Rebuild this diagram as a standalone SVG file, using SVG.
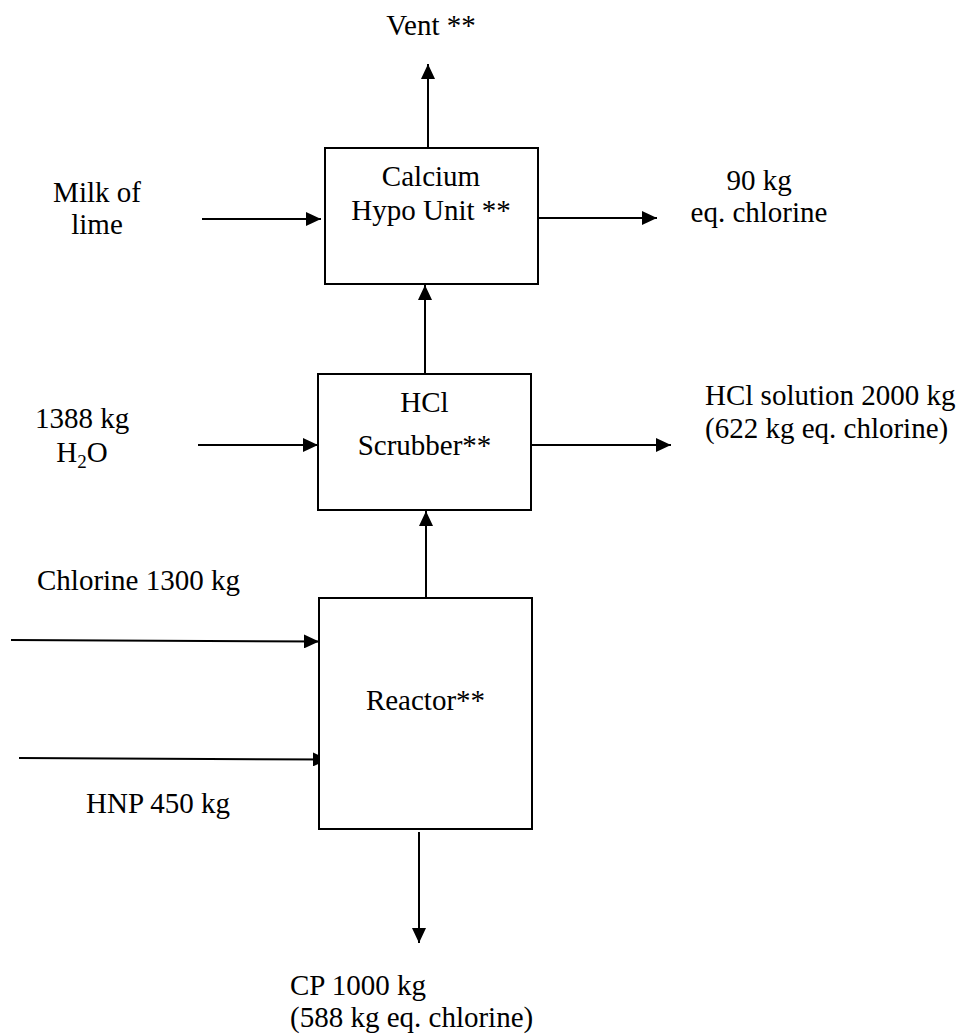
<svg xmlns="http://www.w3.org/2000/svg" width="962" height="1034" viewBox="0 0 962 1034">
<style>
  .box { fill: #ffffff; stroke: #000000; stroke-width: 2; }
  .line { fill: none; stroke: #000000; stroke-width: 2; marker-end: url(#arrow); }
  text { font-family: "Liberation Serif", "Times New Roman", serif; font-size: 29px; fill: #000000; }
  .c { text-anchor: middle; }
</style>
<defs>
  <marker id="arrow" markerUnits="userSpaceOnUse" markerWidth="15" markerHeight="14" refX="15" refY="7" orient="auto">
    <path d="M0,0 L15,7 L0,14 z" fill="#000000"/>
  </marker>
</defs>
<rect width="962" height="1034" fill="#ffffff"/>

<g id="connectors">
  <line class="line" x1="428" y1="148" x2="428" y2="64"/>
  <line class="line" x1="202" y1="219" x2="321" y2="219"/>
  <line class="line" x1="538" y1="218" x2="657" y2="218"/>
  <line class="line" x1="425" y1="374" x2="425" y2="285"/>
  <line class="line" x1="198" y1="445" x2="318" y2="445"/>
  <line class="line" x1="531" y1="445" x2="671" y2="445"/>
  <line class="line" x1="426" y1="598" x2="426" y2="511"/>
  <line class="line" x1="11" y1="640" x2="319" y2="641.5"/>
  <line class="line" x1="19" y1="758" x2="328" y2="759.5"/>
  <line class="line" x1="419" y1="832" x2="419" y2="943"/>
</g>

<g id="calcium-hypo-unit">
  <rect class="box" x="325" y="148" width="213" height="136"/>
  <text class="c" x="431" y="186">Calcium</text>
  <text class="c" x="431" y="220">Hypo Unit **</text>
</g>

<g id="hcl-scrubber">
  <rect class="box" x="318" y="374" width="213" height="136"/>
  <text class="c" x="424.5" y="412">HCl</text>
  <text class="c" x="424.5" y="455">Scrubber**</text>
</g>

<g id="reactor">
  <rect class="box" x="319" y="598" width="213" height="231"/>
  <text class="c" x="425.5" y="710">Reactor**</text>
</g>

<g id="labels">
  <text class="c" x="431" y="35">Vent **</text>
  <text class="c" x="97" y="202">Milk of</text>
  <text class="c" x="97" y="234">lime</text>
  <text class="c" x="759" y="190">90 kg</text>
  <text class="c" x="759" y="222">eq. chlorine</text>
  <text class="c" x="82" y="428">1388 kg</text>
  <text class="c" x="82" y="462">H<tspan font-size="19" dy="6">2</tspan><tspan dy="-6">O</tspan></text>
  <text x="705" y="405">HCl solution 2000 kg</text>
  <text x="705" y="438">(622 kg eq. chlorine)</text>
  <text x="37" y="590">Chlorine 1300 kg</text>
  <text x="86" y="813">HNP 450 kg</text>
  <text x="290" y="995">CP 1000 kg</text>
  <text x="290" y="1027">(588 kg eq. chlorine)</text>
</g>
</svg>
